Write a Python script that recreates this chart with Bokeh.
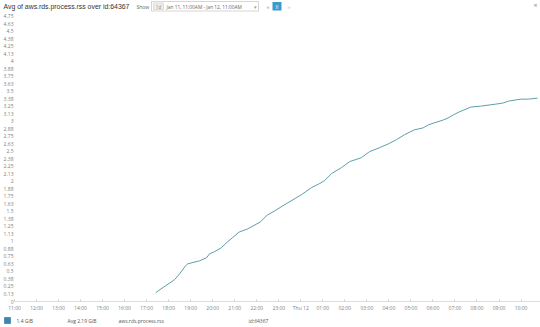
import pandas as pd
from bokeh.plotting import figure
from bokeh.models import FixedTicker, Range1d
from bokeh.layouts import column
from bokeh.core.properties import value
from bokeh.embed import file_html
from bokeh.resources import INLINE

# ---------------- data ----------------
times = [
    "2017-01-11 17:25", "2017-01-11 17:52", "2017-01-11 18:16", "2017-01-11 18:30",
    "2017-01-11 18:46", "2017-01-11 18:52", "2017-01-11 19:24", "2017-01-11 19:43",
    "2017-01-11 19:51", "2017-01-11 20:04", "2017-01-11 20:23", "2017-01-11 20:40",
    "2017-01-11 20:53", "2017-01-11 21:12", "2017-01-11 21:34", "2017-01-11 22:09",
    "2017-01-11 22:28", "2017-01-11 22:47", "2017-01-11 23:09", "2017-01-11 23:36",
    "2017-01-12 00:03", "2017-01-12 00:30", "2017-01-12 00:52", "2017-01-12 01:05",
    "2017-01-12 01:24", "2017-01-12 01:51", "2017-01-12 02:13", "2017-01-12 02:45",
    "2017-01-12 03:07", "2017-01-12 03:34", "2017-01-12 03:59", "2017-01-12 04:20",
    "2017-01-12 04:42", "2017-01-12 05:09", "2017-01-12 05:33", "2017-01-12 05:47",
    "2017-01-12 06:03", "2017-01-12 06:28", "2017-01-12 06:41", "2017-01-12 06:55",
    "2017-01-12 07:11", "2017-01-12 07:43", "2017-01-12 08:10", "2017-01-12 08:51",
    "2017-01-12 09:10", "2017-01-12 09:26", "2017-01-12 09:59", "2017-01-12 10:20",
    "2017-01-12 10:45",
]
values = [
    0.149, 0.264, 0.363, 0.462,
    0.594, 0.627, 0.677, 0.726,
    0.792, 0.826, 0.892, 0.991,
    1.057, 1.156, 1.205, 1.321,
    1.436, 1.502, 1.585, 1.684,
    1.783, 1.899, 1.965, 2.014,
    2.130, 2.229, 2.328, 2.394,
    2.493, 2.559, 2.625, 2.691,
    2.774, 2.856, 2.889, 2.939,
    2.972, 3.021, 3.054, 3.104,
    3.153, 3.236, 3.252, 3.285,
    3.302, 3.335, 3.368, 3.368,
    3.385,
]

x_tick_times = [
    "2017-01-11 11:00", "2017-01-11 12:00", "2017-01-11 13:00", "2017-01-11 14:00",
    "2017-01-11 15:00", "2017-01-11 16:00", "2017-01-11 17:00", "2017-01-11 18:00",
    "2017-01-11 19:00", "2017-01-11 20:00", "2017-01-11 21:00", "2017-01-11 22:00",
    "2017-01-11 23:00", "2017-01-12 00:00", "2017-01-12 01:00", "2017-01-12 02:00",
    "2017-01-12 03:00", "2017-01-12 04:00", "2017-01-12 05:00", "2017-01-12 06:00",
    "2017-01-12 07:00", "2017-01-12 08:00", "2017-01-12 09:00", "2017-01-12 10:00",
]
x_tick_labels = [
    "11:00", "12:00", "13:00", "14:00", "15:00", "16:00", "17:00", "18:00",
    "19:00", "20:00", "21:00", "22:00", "23:00", "Thu 12", "01:00", "02:00",
    "03:00", "04:00", "05:00", "06:00", "07:00", "08:00", "09:00", "10:00",
]
y_tick_values = [
    0, 0.125, 0.25, 0.375, 0.5, 0.625, 0.75, 0.875, 1, 1.125, 1.25, 1.375, 1.5,
    1.625, 1.75, 1.875, 2, 2.125, 2.25, 2.375, 2.5, 2.625, 2.75, 2.875, 3, 3.125,
    3.25, 3.375, 3.5, 3.625, 3.75, 3.875, 4, 4.125, 4.25, 4.375, 4.5, 4.625, 4.75,
]
y_tick_labels = [
    "0", "0.13", "0.25", "0.38", "0.5", "0.63", "0.75", "0.88", "1", "1.13", "1.25",
    "1.38", "1.5", "1.63", "1.75", "1.88", "2", "2.13", "2.25", "2.38", "2.5", "2.63",
    "2.75", "2.88", "3", "3.13", "3.25", "3.38", "3.5", "3.63", "3.75", "3.88", "4",
    "4.13", "4.25", "4.38", "4.5", "4.63", "4.75",
]

x_start, x_end = "2017-01-11 11:00", "2017-01-12 10:53"
y_start, y_end = 0, 4.81

title_text = "Avg of aws.rds.process.rss over id:64367"
range_text = "Jan 11, 11:00AM - Jan 12, 11:00AM"
legend_texts = ["1.4 GiB", "Avg 2.19 GiB", "aws.rds.process.rss", "id:64367"]

# ---------------- styling ----------------
FONT = "Open Sans"
TITLE_FONT = "Liberation Sans"
LINE_COLOR = "#5e9eaa"
W = 540
HDR_H, MAIN_H, FTR_H = 12, 301, 14


def blank(h):
    f = figure(width=W, height=h, x_range=Range1d(0, W), y_range=Range1d(h, 0),
               output_backend="svg", toolbar_location=None, min_border=0,
               x_axis_location=None, y_axis_location=None, frame_align=False)
    f.grid.visible = False
    f.outline_line_color = None
    f.background_fill_color = "white"
    f.border_fill_color = "white"
    return f


def txt(f, x, y, s, size="5px", color="#666666", align="left", font=FONT):
    f.text(x=[x], y=[y], text=[s], text_font=value(font), text_font_size=size,
           text_color=color, text_align=align, text_baseline="middle")


# ---------------- header ----------------
hdr = blank(HDR_H)
txt(hdr, 3, 6, title_text, size="6.9px", color="#333333", font=TITLE_FONT)
txt(hdr, 136, 6, "Show")
hdr.quad(left=151, right=258, top=1, bottom=10.5, fill_color="white",
         line_color="#cccccc", line_width=0.8)
hdr.quad(left=153, right=163, top=2.5, bottom=9, fill_color="#eeeeee",
         line_color="#cccccc", line_width=0.6)
txt(hdr, 158, 6, "1d", size="4.5px", color="#888888", align="center")
txt(hdr, 166, 6, range_text, size="4.8px", color="#666666")
txt(hdr, 253, 6, "\u25be", size="5px", color="#999999")
txt(hdr, 266, 6, "\u00ab", size="6px", color="#888888")
hdr.quad(left=272, right=281, top=1.5, bottom=10, fill_color="#3d9ad1", line_color=None)
txt(hdr, 276.5, 6, "II", size="5px", color="white", align="center")
txt(hdr, 287, 6, "\u00bb", size="6px", color="#bbbbbb")
txt(hdr, 535, 5, "\u00d7", size="7px", color="#888888", align="center")

# ---------------- main chart ----------------
t = pd.to_datetime(times)
p = figure(width=W, height=MAIN_H, x_axis_type="datetime", output_backend="svg",
           toolbar_location=None, frame_align=False,
           x_range=Range1d(pd.Timestamp(x_start), pd.Timestamp(x_end)),
           y_range=Range1d(y_start, y_end),
           min_border_left=11, min_border_right=0, min_border_top=0,
           min_border_bottom=10)
p.outline_line_color = None
p.background_fill_color = "white"
p.border_fill_color = "white"
p.xgrid.visible = False
p.ygrid.visible = False

p.line(t, values, line_color=LINE_COLOR, line_width=1)

tick_ms = [pd.Timestamp(s).value / 1e6 for s in x_tick_times]
p.xaxis.ticker = FixedTicker(ticks=tick_ms)
p.xaxis.major_label_overrides = {ms: lab for ms, lab in zip(tick_ms, x_tick_labels)}
p.xaxis.minor_tick_line_color = None
p.xaxis.major_tick_in = 2
p.xaxis.major_tick_out = 0
p.xaxis.major_tick_line_color = "#cccccc"
p.xaxis.axis_line_color = "#dddddd"
p.xaxis.major_label_standoff = 3
p.xaxis.major_label_text_font_size = "5px"
p.xaxis.major_label_text_font = FONT
p.xaxis.major_label_text_color = "#808080"

p.yaxis.ticker = FixedTicker(ticks=y_tick_values)
p.yaxis.major_label_overrides = {v: lab for v, lab in zip(y_tick_values, y_tick_labels)}
p.yaxis.minor_tick_line_color = None
p.yaxis.major_tick_line_color = None
p.yaxis.major_tick_in = 0
p.yaxis.major_tick_out = 0
p.yaxis.axis_line_color = None
p.yaxis.major_label_standoff = 1
p.yaxis.major_label_text_font_size = "5px"
p.yaxis.major_label_text_font = FONT
p.yaxis.major_label_text_color = "#808080"

# ---------------- footer / legend ----------------
ftr = blank(FTR_H)
ftr.quad(left=4, right=10, top=4, bottom=10, fill_color="#3a86b4",
         line_color="#2d6d94", line_width=0.6)
for s, x in zip(legend_texts, [16, 67, 118, 248]):
    txt(ftr, x, 7, s, size="5px", color="#555555")

layout = column(hdr, p, ftr, spacing=0)
open("out.html", "w").write(file_html(layout, INLINE))
